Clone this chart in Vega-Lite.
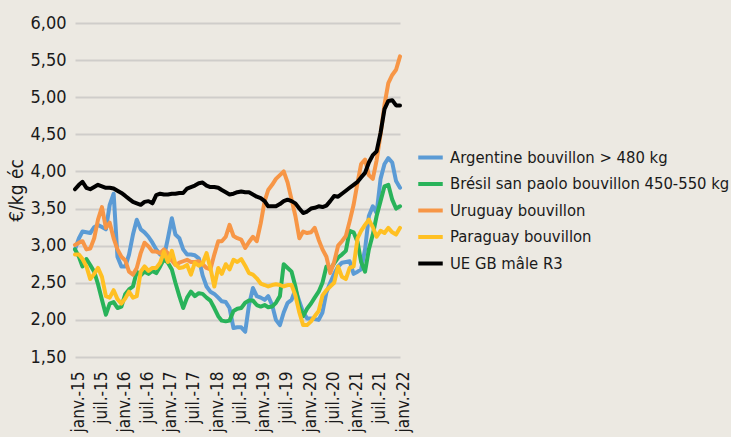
{
  "$schema": "https://vega.github.io/schema/vega-lite/v6.json",
  "width": 325,
  "height": 334,
  "autosize": {"type": "none"},
  "padding": {"left": 75, "top": 23, "right": 331, "bottom": 80},
  "background": "#ece9e2",
  "config": {
    "view": {"stroke": null},
    "font": "DejaVu Sans Condensed, sans-serif"
  },
  "data": {"values": [
    {"d":"2015-01-01","a":2.95,"b":2.95,"u":3.01,"p":2.88,"e":3.76},
    {"d":"2015-02-01","a":3.10,"b":2.85,"u":3.04,"p":2.88,"e":3.82},
    {"d":"2015-03-01","a":3.19,"b":2.72,"u":3.06,"p":2.82,"e":3.86},
    {"d":"2015-04-01","a":3.18,"b":2.82,"u":2.95,"p":2.72,"e":3.78},
    {"d":"2015-05-01","a":3.17,"b":2.74,"u":2.96,"p":2.55,"e":3.76},
    {"d":"2015-06-01","a":3.25,"b":2.65,"u":3.10,"p":2.62,"e":3.79},
    {"d":"2015-07-01","a":3.28,"b":2.48,"u":3.35,"p":2.70,"e":3.82},
    {"d":"2015-08-01","a":3.25,"b":2.27,"u":3.52,"p":2.58,"e":3.80},
    {"d":"2015-09-01","a":3.22,"b":2.07,"u":3.24,"p":2.32,"e":3.78},
    {"d":"2015-10-01","a":3.55,"b":2.22,"u":3.31,"p":2.30,"e":3.78},
    {"d":"2015-11-01","a":3.70,"b":2.24,"u":3.10,"p":2.40,"e":3.77},
    {"d":"2015-12-01","a":2.85,"b":2.16,"u":2.95,"p":2.28,"e":3.74},
    {"d":"2016-01-01","a":2.72,"b":2.18,"u":2.85,"p":2.22,"e":3.71},
    {"d":"2016-02-01","a":2.72,"b":2.35,"u":2.80,"p":2.29,"e":3.67},
    {"d":"2016-03-01","a":2.88,"b":2.41,"u":2.65,"p":2.38,"e":3.63},
    {"d":"2016-04-01","a":3.15,"b":2.45,"u":2.61,"p":2.30,"e":3.59},
    {"d":"2016-05-01","a":3.35,"b":2.65,"u":2.70,"p":2.32,"e":3.57},
    {"d":"2016-06-01","a":3.22,"b":2.60,"u":2.90,"p":2.65,"e":3.55},
    {"d":"2016-07-01","a":3.18,"b":2.65,"u":3.04,"p":2.72,"e":3.59},
    {"d":"2016-08-01","a":3.12,"b":2.62,"u":2.99,"p":2.66,"e":3.60},
    {"d":"2016-09-01","a":3.04,"b":2.66,"u":2.92,"p":2.70,"e":3.57},
    {"d":"2016-10-01","a":2.95,"b":2.63,"u":2.92,"p":2.70,"e":3.68},
    {"d":"2016-11-01","a":2.88,"b":2.72,"u":2.90,"p":2.77,"e":3.70},
    {"d":"2016-12-01","a":2.85,"b":2.82,"u":2.95,"p":2.92,"e":3.69},
    {"d":"2017-01-01","a":3.10,"b":2.77,"u":2.90,"p":2.78,"e":3.69},
    {"d":"2017-02-01","a":3.37,"b":2.68,"u":2.80,"p":2.93,"e":3.70},
    {"d":"2017-03-01","a":3.15,"b":2.50,"u":2.74,"p":2.75,"e":3.70},
    {"d":"2017-04-01","a":3.10,"b":2.32,"u":2.77,"p":2.70,"e":3.71},
    {"d":"2017-05-01","a":2.95,"b":2.16,"u":2.79,"p":2.71,"e":3.71},
    {"d":"2017-06-01","a":2.88,"b":2.30,"u":2.81,"p":2.74,"e":3.77},
    {"d":"2017-07-01","a":2.88,"b":2.38,"u":2.78,"p":2.61,"e":3.79},
    {"d":"2017-08-01","a":2.87,"b":2.32,"u":2.78,"p":2.77,"e":3.81},
    {"d":"2017-09-01","a":2.83,"b":2.36,"u":2.79,"p":2.73,"e":3.84},
    {"d":"2017-10-01","a":2.60,"b":2.35,"u":2.75,"p":2.76,"e":3.85},
    {"d":"2017-11-01","a":2.45,"b":2.30,"u":2.70,"p":2.90,"e":3.81},
    {"d":"2017-12-01","a":2.38,"b":2.26,"u":2.68,"p":2.70,"e":3.79},
    {"d":"2018-01-01","a":2.35,"b":2.16,"u":2.88,"p":2.45,"e":3.79},
    {"d":"2018-02-01","a":2.30,"b":2.05,"u":3.06,"p":2.70,"e":3.78},
    {"d":"2018-03-01","a":2.25,"b":1.99,"u":3.06,"p":2.62,"e":3.75},
    {"d":"2018-04-01","a":2.24,"b":1.98,"u":3.12,"p":2.75,"e":3.72},
    {"d":"2018-05-01","a":2.16,"b":1.99,"u":3.28,"p":2.68,"e":3.69},
    {"d":"2018-06-01","a":1.89,"b":2.12,"u":3.13,"p":2.81,"e":3.70},
    {"d":"2018-07-01","a":1.90,"b":2.15,"u":3.10,"p":2.78,"e":3.72},
    {"d":"2018-08-01","a":1.90,"b":2.16,"u":3.08,"p":2.82,"e":3.73},
    {"d":"2018-09-01","a":1.84,"b":2.23,"u":2.97,"p":2.73,"e":3.72},
    {"d":"2018-10-01","a":2.20,"b":2.26,"u":3.05,"p":2.63,"e":3.72},
    {"d":"2018-11-01","a":2.43,"b":2.26,"u":3.12,"p":2.61,"e":3.69},
    {"d":"2018-12-01","a":2.32,"b":2.20,"u":3.06,"p":2.56,"e":3.66},
    {"d":"2019-01-01","a":2.30,"b":2.18,"u":3.30,"p":2.49,"e":3.64},
    {"d":"2019-02-01","a":2.27,"b":2.20,"u":3.60,"p":2.47,"e":3.60},
    {"d":"2019-03-01","a":2.32,"b":2.17,"u":3.75,"p":2.45,"e":3.53},
    {"d":"2019-04-01","a":2.20,"b":2.18,"u":3.82,"p":2.47,"e":3.53},
    {"d":"2019-05-01","a":2.00,"b":2.23,"u":3.90,"p":2.48,"e":3.53},
    {"d":"2019-06-01","a":1.93,"b":2.32,"u":3.95,"p":2.47,"e":3.56},
    {"d":"2019-07-01","a":2.10,"b":2.75,"u":4.00,"p":2.45,"e":3.60},
    {"d":"2019-08-01","a":2.23,"b":2.70,"u":3.85,"p":2.47,"e":3.62},
    {"d":"2019-09-01","a":2.27,"b":2.65,"u":3.62,"p":2.47,"e":3.60},
    {"d":"2019-10-01","a":2.41,"b":2.45,"u":3.40,"p":2.33,"e":3.57},
    {"d":"2019-11-01","a":2.25,"b":2.18,"u":3.10,"p":2.10,"e":3.50},
    {"d":"2019-12-01","a":2.10,"b":2.05,"u":3.19,"p":1.93,"e":3.44},
    {"d":"2020-01-01","a":2.02,"b":2.15,"u":3.17,"p":1.93,"e":3.46},
    {"d":"2020-02-01","a":2.02,"b":2.22,"u":3.18,"p":1.98,"e":3.50},
    {"d":"2020-03-01","a":2.01,"b":2.30,"u":3.24,"p":2.05,"e":3.51},
    {"d":"2020-04-01","a":2.00,"b":2.38,"u":3.08,"p":2.12,"e":3.53},
    {"d":"2020-05-01","a":2.10,"b":2.50,"u":2.95,"p":2.33,"e":3.52},
    {"d":"2020-06-01","a":2.37,"b":2.72,"u":2.85,"p":2.40,"e":3.54},
    {"d":"2020-07-01","a":2.50,"b":2.68,"u":2.63,"p":2.45,"e":3.60},
    {"d":"2020-08-01","a":2.62,"b":2.76,"u":2.78,"p":2.50,"e":3.67},
    {"d":"2020-09-01","a":2.72,"b":2.84,"u":3.00,"p":2.72,"e":3.66},
    {"d":"2020-10-01","a":2.77,"b":2.88,"u":3.06,"p":2.58,"e":3.70},
    {"d":"2020-11-01","a":2.78,"b":2.93,"u":3.13,"p":2.55,"e":3.74},
    {"d":"2020-12-01","a":2.79,"b":3.20,"u":3.33,"p":2.70,"e":3.78},
    {"d":"2021-01-01","a":2.62,"b":3.18,"u":3.55,"p":2.72,"e":3.82},
    {"d":"2021-02-01","a":2.65,"b":3.05,"u":3.85,"p":3.10,"e":3.86},
    {"d":"2021-03-01","a":2.68,"b":2.78,"u":4.10,"p":3.20,"e":3.92},
    {"d":"2021-04-01","a":2.95,"b":2.65,"u":4.16,"p":3.28,"e":3.98},
    {"d":"2021-05-01","a":3.40,"b":2.95,"u":3.95,"p":3.35,"e":4.12},
    {"d":"2021-06-01","a":3.53,"b":3.15,"u":3.90,"p":3.25,"e":4.22},
    {"d":"2021-07-01","a":3.44,"b":3.40,"u":4.15,"p":3.12,"e":4.27},
    {"d":"2021-08-01","a":3.90,"b":3.60,"u":4.50,"p":3.20,"e":4.52},
    {"d":"2021-09-01","a":4.10,"b":3.80,"u":4.90,"p":3.17,"e":4.84},
    {"d":"2021-10-01","a":4.18,"b":3.82,"u":5.19,"p":3.24,"e":4.95},
    {"d":"2021-11-01","a":4.12,"b":3.62,"u":5.30,"p":3.18,"e":4.96},
    {"d":"2021-12-01","a":3.87,"b":3.50,"u":5.37,"p":3.15,"e":4.89},
    {"d":"2022-01-01","a":3.78,"b":3.53,"u":5.55,"p":3.24,"e":4.89}
  ]},
  "transform": [{"fold": ["a", "b", "u", "p", "e"], "as": ["s", "v"]}],
  "mark": {"type": "line", "strokeWidth": 4, "strokeJoin": "round", "strokeCap": "round"},
  "encoding": {
    "x": {
      "field": "d", "type": "temporal",
      "scale": {"type": "utc", "domain": [{"year": 2015, "month": 1, "date": 1, "utc": true}, {"year": 2022, "month": 1, "date": 1, "utc": true}]},
      "axis": {
        "title": null, "domain": false, "ticks": false, "grid": false,
        "tickCount": {"interval": "month", "step": 6},
        "labelAngle": -90, "labelAlign": "right", "labelBaseline": "middle",
        "labelPadding": 14, "labelOffset": 3, "labelFontSize": 17, "labelColor": "#1a1a1a",
        "labelOverlap": false, "labelBound": false, "labelFlush": false,
        "labelExpr": "(utcmonth(datum.value) == 0 ? 'janv.-' : 'juil.-') + utcFormat(datum.value, '%y')"
      }
    },
    "y": {
      "field": "v", "type": "quantitative",
      "scale": {"domain": [1.5, 6], "nice": false, "zero": false},
      "axis": {
        "title": "€/kg éc", "titleFontSize": 19, "titleFontWeight": "normal", "titleColor": "#1a1a1a",
        "titlePadding": 3,
        "values": [1.5, 2, 2.5, 3, 3.5, 4, 4.5, 5, 5.5, 6],
        "domain": false, "ticks": false,
        "grid": true, "gridColor": "#cfcdca", "gridWidth": 2,
        "labelFontSize": 18, "labelColor": "#1a1a1a", "labelPadding": 9,
        "labelExpr": "replace(format(datum.value, '.2f'), '.', ',')"
      }
    },
    "color": {
      "field": "s", "type": "nominal",
      "scale": {"domain": ["a", "b", "u", "p", "e"], "range": ["#5b9bd5", "#29b35a", "#f79646", "#ffc023", "#000000"]},
      "legend": {
        "title": null, "orient": "none", "legendX": 341, "legendY": 120,
        "symbolType": "stroke", "symbolStrokeWidth": 4, "symbolSize": 600,
        "labelFontSize": 16.5, "labelColor": "#1a1a1a", "labelLimit": 400,
        "rowPadding": 3.5, "labelOffset": 5,
        "labelExpr": "datum.value == 'a' ? 'Argentine bouvillon > 480 kg' : datum.value == 'b' ? 'Brésil san paolo bouvillon 450-550 kg' : datum.value == 'u' ? 'Uruguay bouvillon' : datum.value == 'p' ? 'Paraguay bouvillon' : 'UE GB mâle R3'"
      }
    }
  }
}
